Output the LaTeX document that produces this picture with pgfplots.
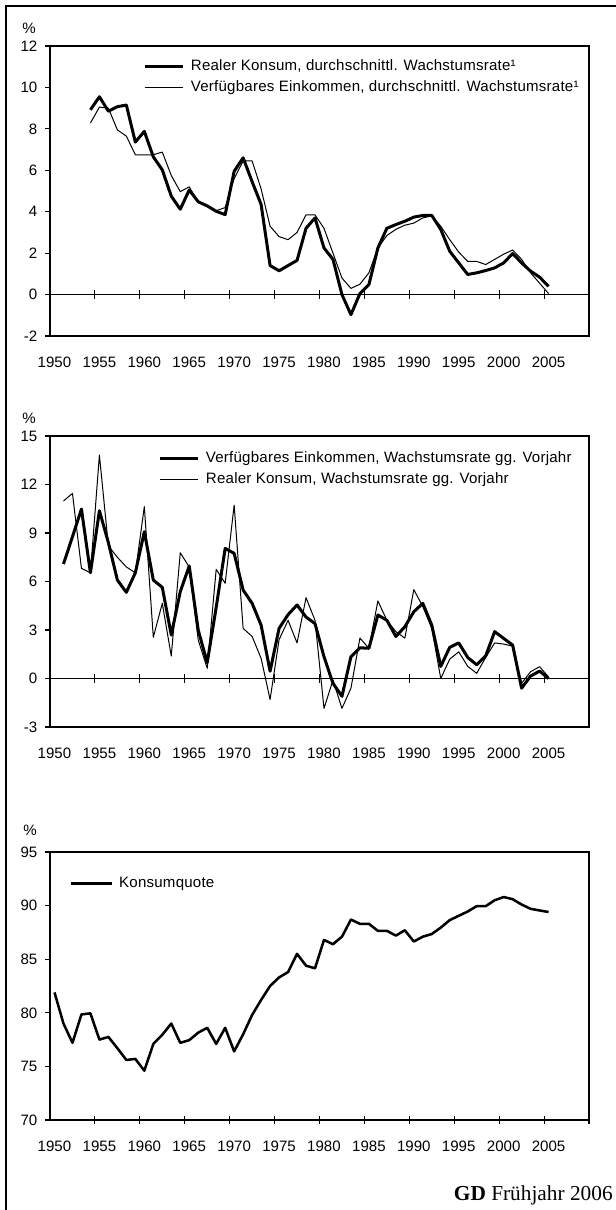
\documentclass[border=0pt]{standalone}
\usepackage{fontspec}
\setmainfont{Liberation Sans}
\newfontfamily\legfont[LetterSpace=1.5]{Liberation Sans}
\newfontfamily\serif{Liberation Serif}
\usepackage{pgfplots}
\usepackage{pgfplotstable}
\pgfplotsset{compat=1.18}

% durchschnittl. Wachstumsraten
\pgfplotstableread{
year kons eink
1954 8.92 8.28
1955 9.55 9.05
1956 8.85 9.00
1957 9.07 7.95
1958 9.15 7.65
1959 7.36 6.75
1960 7.88 6.75
1961 6.65 6.75
1962 6.02 6.88
1963 4.75 5.75
1964 4.12 4.97
1965 5.05 5.20
1966 4.48 4.45
1967 4.28 4.30
1968 4.02 4.05
1969 3.86 4.20
1970 5.95 5.60
1971 6.60 6.45
1972 5.45 6.45
1973 4.35 5.10
1974 1.40 3.30
1975 1.15 2.80
1976 1.40 2.65
1977 1.65 3.00
1978 3.20 3.85
1979 3.70 3.85
1980 2.25 3.20
1981 1.70 2.00
1982 0.00 0.80
1983 -0.97 0.30
1984 0.05 0.50
1985 0.48 1.05
1986 2.25 2.25
1987 3.20 2.85
1988 3.38 3.15
1989 3.54 3.35
1990 3.74 3.45
1991 3.82 3.70
1992 3.82 3.80
1993 3.14 3.30
1994 2.09 2.65
1995 1.53 2.05
1996 0.97 1.60
1997 1.05 1.60
1998 1.16 1.45
1999 1.29 1.70
2000 1.53 1.95
2001 1.98 2.15
2002 1.53 1.70
2003 1.13 1.05
2004 0.84 0.55
2005 0.40 0.05
}\avgdata

% Wachstumsraten gg. Vorjahr
\pgfplotstableread{
year eink kons
1951 7.08 10.98
1952 8.77 11.45
1953 10.48 6.81
1954 6.54 6.54
1955 10.38 13.82
1956 8.40 8.20
1957 6.09 7.50
1958 5.33 6.90
1959 6.54 6.54
1960 9.08 10.63
1961 6.09 2.55
1962 5.64 4.65
1963 2.69 1.39
1964 5.37 7.78
1965 6.96 6.90
1966 3.00 2.38
1967 0.98 0.63
1968 4.40 6.75
1969 8.05 5.89
1970 7.74 10.73
1971 5.47 3.10
1972 4.65 2.60
1973 3.30 1.25
1974 0.45 -1.30
1975 3.10 2.40
1976 3.95 3.60
1977 4.55 2.20
1978 3.80 5.00
1979 3.40 3.60
1980 1.35 -1.85
1981 -0.30 -0.10
1982 -1.10 -1.85
1983 1.35 -0.60
1984 1.90 2.50
1985 1.87 1.87
1986 3.93 4.80
1987 3.60 3.60
1988 2.60 2.90
1989 3.20 2.50
1990 4.13 5.50
1991 4.65 4.45
1992 3.30 3.10
1993 0.75 0.00
1994 1.93 1.20
1995 2.20 1.65
1996 1.30 0.75
1997 0.85 0.32
1998 1.40 1.30
1999 2.90 2.20
2000 2.48 2.13
2001 2.07 2.00
2002 -0.60 -0.30
2003 0.15 0.42
2004 0.46 0.73
2005 0.00 0.10
}\yoydata

% Konsumquote
\pgfplotstableread{
year quote
1950 81.90
1951 79.00
1952 77.20
1953 79.85
1954 79.95
1955 77.50
1956 77.75
1957 76.70
1958 75.60
1959 75.70
1960 74.60
1961 77.10
1962 77.95
1963 79.00
1964 77.20
1965 77.45
1966 78.15
1967 78.60
1968 77.10
1969 78.60
1970 76.40
1971 78.00
1972 79.80
1973 81.20
1974 82.50
1975 83.30
1976 83.80
1977 85.50
1978 84.40
1979 84.15
1980 86.80
1981 86.40
1982 87.10
1983 88.70
1984 88.30
1985 88.30
1986 87.65
1987 87.65
1988 87.20
1989 87.70
1990 86.65
1991 87.10
1992 87.35
1993 87.95
1994 88.65
1995 89.05
1996 89.45
1997 89.95
1998 89.95
1999 90.50
2000 90.80
2001 90.60
2002 90.10
2003 89.70
2004 89.55
2005 89.40
}\quotedata

\pgfplotsset{
  gd/.style={
    scale only axis, width=404.25pt, anchor=south west,
    xmin=1949.5, xmax=2009.5, clip=false,
    axis line style={line width=0.8pt},
    xtick={1950,1955,...,2005}, x tick style={draw=none},
    ytick pos=left, tick align=outside, major tick length=3.75pt,
    y tick style={line width=0.8pt, black},
    tick label style={font=\fontsize{11.3}{13}\selectfont},
    /pgf/number format/assume math mode=true,
    xticklabel style={/pgf/number format/1000 sep={}, yshift=-8.25pt},
    yticklabel style={xshift=-2.25pt},
    legend cell align=left,
    legend style={draw=none, fill=none, inner sep=0pt,
      font=\legfont\fontsize{11.3}{13}\selectfont,
      nodes={inner sep=0pt, text height=8.5pt, text depth=2.5pt},
      row sep=4.75pt, column sep=4.5pt, anchor=north west},
    legend image code/.code={\draw[##1] (0pt,0pt) -- (29pt,0pt);},
    thick line/.style={line width=2.25pt, line join=round},
    thin line/.style={line width=0.75pt, line join=round},
  },
}
% Achse mit Teilstrichen zwischen den Jahren
\newcommand\yearticks[1]{%
  \draw[line width=0.8pt] (axis cs:1949.5,#1) -- (axis cs:2009.5,#1);
  \pgfplotsinvokeforeach{1954.5,1959.5,1964.5,1969.5,1974.5,1979.5,1984.5,1989.5,1994.5,1999.5,2004.5,2009.5}{%
    \draw[line width=0.8pt] ([yshift=-3.2pt]axis cs:##1,#1) -- ([yshift=3.2pt]axis cs:##1,#1);}%
}

\begin{document}
\begin{tikzpicture}
\useasboundingbox (0pt,0pt) rectangle (462pt,-907.5pt);
\draw[line width=1.9pt] (4.5pt,-907.5pt) -- (4.5pt,-4.65pt) -- (462pt,-4.65pt);

% oben
\begin{axis}[gd, at={(37.5pt,-252pt)}, height=217.5pt,
  ymin=-2, ymax=12, ytick={-2,0,...,12},
  legend style={at={(axis description cs:0.1725,0.956)}}]
\addplot[black, thick line] table[x=year, y=kons] {\avgdata};
\addlegendentry{Realer Konsum, durchschnittl. Wachstumsrate¹}
\addplot[black, thin line] table[x=year, y=eink] {\avgdata};
\addlegendentry{Verfügbares Einkommen, durchschnittl. Wachstumsrate¹}
\yearticks{0}
\end{axis}
\node[font=\fontsize{11.3}{13}\selectfont] at (21.75pt,-21pt) {\%};

% Mitte
\begin{axis}[gd, at={(37.5pt,-545.25pt)}, height=218.25pt,
  ymin=-3, ymax=15, ytick={-3,0,...,15},
  legend style={at={(axis description cs:0.2004,0.9495)}}]
\addplot[black, thick line] table[x=year, y=eink] {\yoydata};
\addlegendentry{Verfügbares Einkommen, Wachstumsrate gg. Vorjahr}
\addplot[black, thin line] table[x=year, y=kons] {\yoydata};
\addlegendentry{Realer Konsum, Wachstumsrate gg. Vorjahr}
\yearticks{0}
\end{axis}
\node[font=\fontsize{11.3}{13}\selectfont] at (21.75pt,-313.5pt) {\%};

% unten
\begin{axis}[gd, at={(37.5pt,-840pt)}, height=201pt,
  ymin=70, ymax=95, ytick={70,75,...,95},
  legend style={at={(axis description cs:0.0353,0.9116)}},
  legend image code/.code={\draw[#1] (0pt,0pt) -- (31pt,0pt);}]
\addplot[black, line width=1.9pt, line join=round] table[x=year, y=quote] {\quotedata};
\addlegendentry{Konsumquote}
\yearticks{70}
\end{axis}
\node[font=\fontsize{11.3}{13}\selectfont] at (22.5pt,-622.5pt) {\%};

\node[anchor=base east, inner sep=0pt] at (459.75pt,-900pt)
  {\serif\fontsize{16}{19}\selectfont\textbf{GD} Frühjahr 2006};
\end{tikzpicture}
\end{document}
